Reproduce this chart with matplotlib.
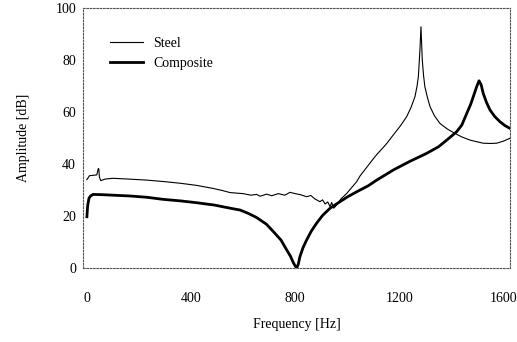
import matplotlib
matplotlib.use("Agg")
import matplotlib.pyplot as plt

# Steel (thin line) - frequency [Hz], amplitude [dB]
steel_f = [0, 10, 20, 38, 44, 46, 48, 53, 70, 100, 160, 230, 300, 358, 420, 485, 520,
           550, 600, 630, 652, 665, 690, 710, 735, 760, 780, 800, 820, 844, 860, 875,
           895, 905, 915, 925, 934, 940, 948, 959, 975, 998, 1036, 1049, 1100, 1113,
           1150, 1177, 1205, 1228, 1245, 1260, 1268, 1273, 1279, 1283, 1288, 1293, 1298,
           1308, 1318, 1335, 1356, 1385, 1413, 1440, 1471, 1500, 1522, 1550, 1574, 1600, 1625]
steel_a = [34.0, 35.5, 35.6, 35.8, 38.3, 38.0, 35.0, 33.6, 34.2, 34.5, 34.2, 33.8, 33.2, 32.6,
           31.8, 30.6, 29.8, 29.0, 28.6, 28.0, 28.3, 27.6, 28.4, 27.8, 28.6, 28.0, 29.1, 28.6,
           28.2, 27.4, 27.9, 26.6, 25.5, 26.2, 24.6, 25.4, 23.6, 25.2, 23.0, 24.2, 26.5, 28.7,
           33.2, 35.4, 42.0, 43.6, 47.7, 51.2, 54.8, 58.2, 61.8, 65.9, 70.0, 73.6, 83.8, 92.8,
           80.0, 74.0, 69.7, 65.5, 62.0, 58.5, 55.6, 53.4, 51.8, 50.4, 49.2, 48.5, 48.0, 47.9,
           48.0, 48.8, 49.9]

# Composite (thick line)
comp_f = [0, 3, 8, 14, 24, 60, 100, 165, 230, 293, 360, 422, 490, 550, 588, 620, 652,
          690, 716, 745, 767, 782, 793, 800, 806, 812, 818, 830, 844, 862, 882, 905, 934,
          972, 1000, 1036, 1080, 1113, 1177, 1240, 1305, 1350, 1382, 1420, 1440, 1459, 1474,
          1484, 1496, 1506, 1514, 1522, 1535, 1548, 1566, 1586, 1605, 1625]
comp_a = [19.7, 24.0, 26.8, 27.7, 28.3, 28.2, 28.0, 27.7, 27.2, 26.4, 25.8, 25.1, 24.2, 23.0,
          22.3, 21.0, 19.4, 16.8, 14.0, 10.8, 7.0, 4.5, 2.0, 0.8, 0.0, 1.5, 4.3, 7.8, 10.8,
          14.2, 17.2, 20.2, 23.0, 25.5, 27.3, 29.3, 31.6, 33.8, 37.7, 41.0, 44.1, 46.6, 49.2,
          52.4, 55.0, 59.5, 63.0, 65.9, 69.5, 72.0, 70.5, 67.2, 63.6, 60.8, 58.3, 56.3, 54.8, 53.7]

xticks = [0, 400, 800, 1200, 1600]
yticks = [0, 20, 40, 60, 80, 100]

plt.rcParams['font.family'] = ['Liberation Serif', 'DejaVu Serif']

fig = plt.figure(figsize=(5.17, 3.42), dpi=100)
ax = fig.add_axes([0.1605, 0.2164, 0.826, 0.7602])

ax.plot(steel_f, steel_a, color='black', lw=0.8, label='Steel')
ax.plot(comp_f, comp_a, color='black', lw=2.0, label='Composite')

ax.set_xlim(-15, 1625)
ax.set_ylim(0, 100)
ax.set_xticks(xticks)
ax.set_yticks(yticks)
ax.tick_params(length=0, labelsize=10)
ax.tick_params(axis='x', pad=17)
ax.tick_params(axis='y', pad=5)

for s in ax.spines.values():
    s.set_linestyle((0, (1.5, 1.5)))
    s.set_linewidth(0.8)
    s.set_color('#555555')

ax.set_xlabel('Frequency [Hz]', fontsize=10, labelpad=10)
ax.set_ylabel('Amplitude [dB]', fontsize=10, labelpad=18)

leg = ax.legend(loc='upper left', bbox_to_anchor=(0.063, 0.89), frameon=False,
                fontsize=10, handlelength=2.4, handletextpad=0.7, labelspacing=0.55,
                borderpad=0, borderaxespad=0)

fig.savefig('out.png', dpi=100)
